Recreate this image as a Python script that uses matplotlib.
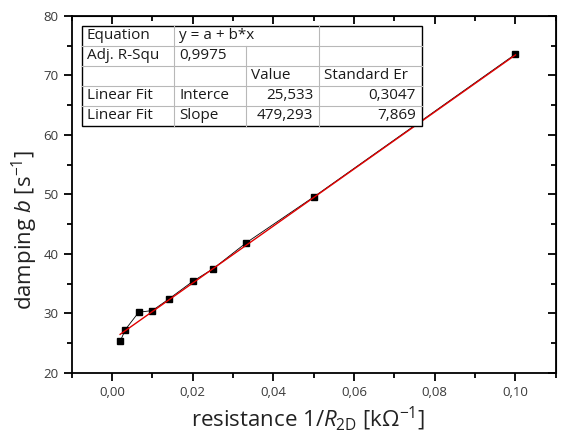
import matplotlib.pyplot as plt
from matplotlib.ticker import MultipleLocator, FuncFormatter
import numpy as np

plt.rcParams['font.family'] = ['Open Sans', 'DejaVu Sans']
plt.rcParams['mathtext.fontset'] = 'custom'
plt.rcParams['mathtext.rm'] = 'Open Sans'
plt.rcParams['mathtext.it'] = 'Open Sans:italic'

# data
inv_r = [0.002, 0.0033, 0.0066, 0.0100, 0.0140, 0.0200, 0.0250, 0.0333, 0.0500, 0.1000]
damping = [25.3, 27.3, 30.2, 30.5, 32.4, 35.4, 37.5, 41.9, 49.6, 73.6]

# linear fit parameters (from table)
intercept = 25.533
slope = 479.293

table_rows = [
    ["Equation", "y = a + b*x", "", ""],
    ["Adj. R-Squ", "0,9975", "", ""],
    ["", "", "Value", "Standard Er"],
    ["Linear Fit", "Interce", "25,533", "0,3047"],
    ["Linear Fit", "Slope", "479,293", "7,869"],
]

fig = plt.figure(figsize=(5.61, 4.32), dpi=100)
ax = fig.add_axes([0.1278, 0.1366, 0.863, 0.8264])

ax.plot(inv_r, damping, color='black', lw=0.6, marker='s', ms=5, zorder=3)
xf = np.array([inv_r[0], inv_r[-1]])
ax.plot(xf, intercept + slope * xf, color='#e00000', lw=1.0, zorder=4)

ax.set_xlim(-0.01, 0.11)
ax.set_ylim(20, 80)
ax.xaxis.set_major_locator(MultipleLocator(0.02))
ax.xaxis.set_minor_locator(MultipleLocator(0.01))
ax.yaxis.set_major_locator(MultipleLocator(10))
ax.yaxis.set_minor_locator(MultipleLocator(5))
ax.xaxis.set_major_formatter(FuncFormatter(lambda v, p: f"{v:.2f}".replace('.', ',')))
ax.yaxis.set_major_formatter(FuncFormatter(lambda v, p: f"{v:.0f}"))

for s in ax.spines.values():
    s.set_linewidth(1.3)
ax.tick_params(which='both', direction='out', width=1.3, labelsize=9.5, labelcolor='#3a3a3a',
               top=False, right=False)
ax.tick_params(which='major', length=6)
ax.tick_params(which='minor', length=3.5)
# mirrored ticks on top/right pointing inward
axt = ax.secondary_xaxis('top')
axt.xaxis.set_major_locator(MultipleLocator(0.02))
axt.xaxis.set_minor_locator(MultipleLocator(0.01))
axt.tick_params(which='both', direction='in', width=1.3, labeltop=False)
axt.tick_params(which='major', length=6)
axt.tick_params(which='minor', length=3.5)
axr = ax.secondary_yaxis('right')
axr.yaxis.set_major_locator(MultipleLocator(10))
axr.yaxis.set_minor_locator(MultipleLocator(5))
axr.tick_params(which='both', direction='in', width=1.3, labelright=False)
axr.tick_params(which='major', length=6)
axr.tick_params(which='minor', length=3.5)

ax.set_xlabel(r"resistance 1/$\mathit{R}_{\rm 2D}$ [k$\Omega^{-1}$]", fontsize=16, color='#222222')
ax.set_ylabel(r"damping $\mathit{b}$ [s$^{-1}$]", fontsize=16, color='#222222')
ax.xaxis.set_label_coords(0.488, -0.089)
ax.yaxis.set_label_coords(-0.066, 0.40)

# fit result table (figure pixel coords)
W, H = 561, 432
col_x = [81.7, 174.3, 245.7, 319.3, 422]
row_y = [25.7, 45.7, 65.7, 85.7, 105.7, 126]

def fx(px):
    return px / W

def fy(py):
    return 1 - py / H

fig.patches.append(plt.Rectangle((fx(col_x[0]), fy(row_y[-1])), fx(col_x[-1] - col_x[0]),
                                 (row_y[-1] - row_y[0]) / H, transform=fig.transFigure,
                                 facecolor='white', edgecolor='black', lw=1.0, zorder=5))
grid_c = '#b8b8b8'
for y in row_y[1:-1]:
    fig.add_artist(plt.Line2D([fx(col_x[0]), fx(col_x[-1])], [fy(y), fy(y)], color=grid_c, lw=0.8, zorder=6))
for i, x in enumerate(col_x[1:-1], start=1):
    y0 = row_y[1] if i == 2 else row_y[0]
    fig.add_artist(plt.Line2D([fx(x), fx(x)], [fy(y0), fy(row_y[-1])], color=grid_c, lw=0.8, zorder=6))

for r, row in enumerate(table_rows):
    yc = (row_y[r] + row_y[r + 1]) / 2
    for c, txt in enumerate(row):
        if not txt:
            continue
        if r >= 3 and c >= 2:
            fig.text(fx(col_x[c + 1] - 6), fy(yc), txt, ha='right', va='center', fontsize=11,
                     color='#1a1a1a', zorder=7)
        else:
            fig.text(fx(col_x[c] + 5), fy(yc), txt, ha='left', va='center', fontsize=11,
                     color='#1a1a1a', zorder=7)

fig.savefig('out.png', dpi=100)
